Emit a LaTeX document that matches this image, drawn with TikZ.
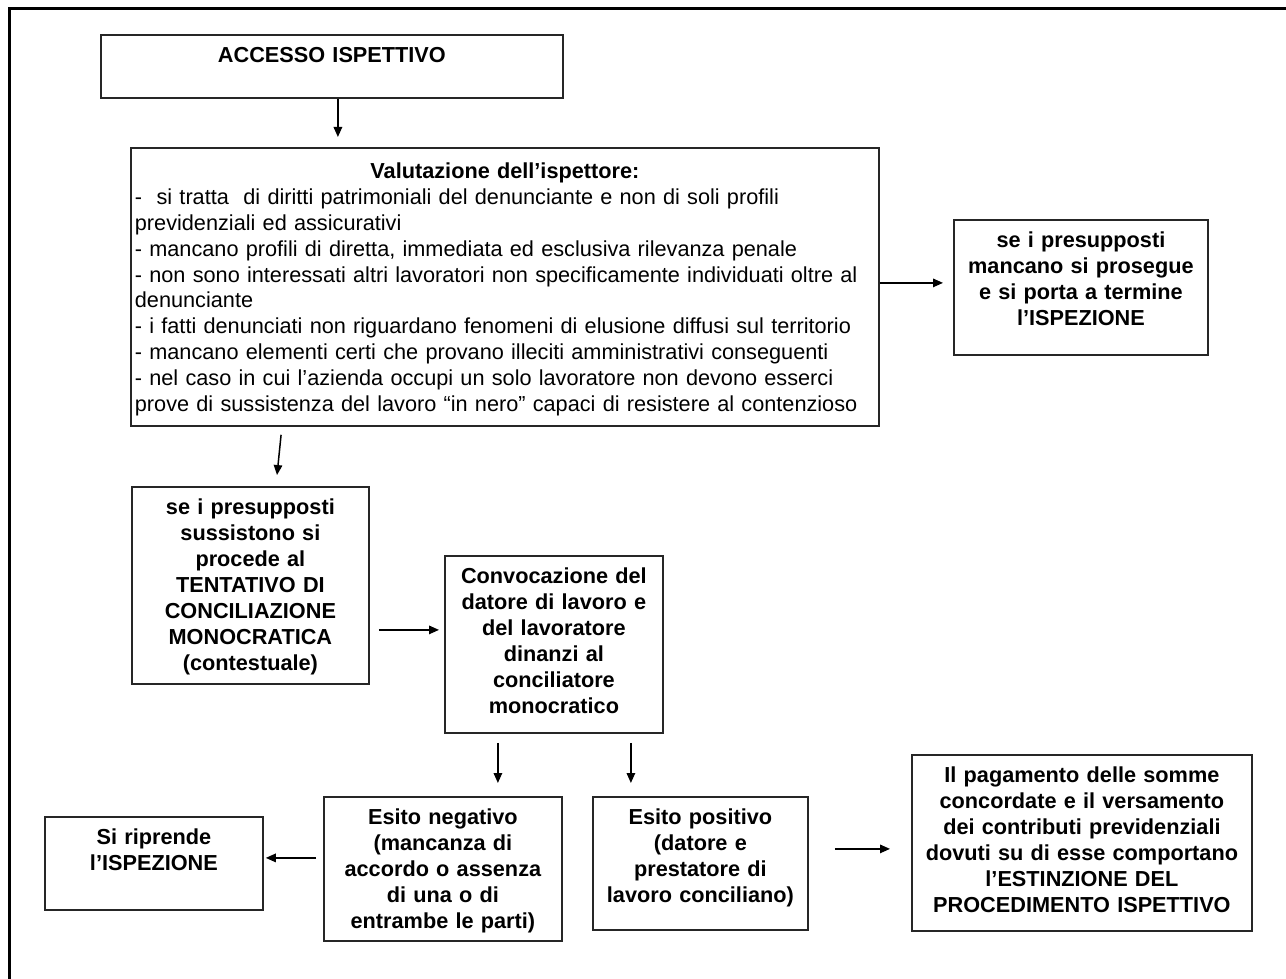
\documentclass[tikz,border=0pt]{standalone}
\usepackage{fontspec}
\setmainfont{Liberation Sans}
\usetikzlibrary{arrows.meta}

\begin{document}
\begin{tikzpicture}[x=1pt, y=-1pt,
        box/.style={draw=black!85, line width=1.8pt, anchor=north west, align=center,
            inner xsep=4pt, inner ysep=6pt, text height=22pt,
            font=\bfseries\fontsize{21.7}{26}\selectfont},
        arr/.style={-{Triangle[length=10pt,width=8.5pt]}, line width=1.5pt}]
        \useasboundingbox (0,0) rectangle (1286,979);
        \draw[line width=3pt] (9,979) -- (9,9) -- (1286,9);

        \node[box, text width=454pt, text depth=29pt] (acc) at (100,34) {ACCESSO ISPETTIVO};
        \node[box, align=left, text width=740pt, text height=25pt, text depth=241pt,
            font=\fontsize{21.7}{25.8}\selectfont] (val) at (130,147)
            {\makebox[\linewidth]{\bfseries Valutazione dell’ispettore:}\\
            -\ \ si tratta\ \ di diritti patrimoniali del denunciante e non di soli profili\\
            previdenziali ed assicurativi\\
            - mancano profili di diretta, immediata ed esclusiva rilevanza penale\\
            - non sono interessati altri lavoratori non specificamente individuati oltre al\\
            denunciante\\
            - i fatti denunciati non riguardano fenomeni di elusione diffusi sul territorio\\
            - mancano elementi certi che provano illeciti amministrativi conseguenti\\
            - nel caso in cui l’azienda occupi un solo lavoratore non devono esserci\\
            prove di sussistenza del lavoro “in nero” capaci di resistere al contenzioso};
        \node[box, text width=246pt, text depth=101pt] (rt) at (953,219)
            {se i presupposti\\ mancano si prosegue\\ e si porta a termine\\ l’ISPEZIONE};
        \node[box, text width=229pt, text depth=163pt] (sus) at (131,486)
            {se i presupposti\\ sussistono si\\ procede al\\ TENTATIVO DI\\ CONCILIAZIONE\\ MONOCRATICA\\ (contestuale)};
        \node[box, text width=210pt, text depth=143pt] (conv) at (444,555)
            {Convocazione del\\ datore di lavoro e\\ del lavoratore\\ dinanzi al\\ conciliatore\\ monocratico};
        \node[box, text width=210pt, text depth=59pt] (rip) at (44,816)
            {Si riprende\\ l’ISPEZIONE};
        \node[box, text width=230pt, text depth=110pt] (neg) at (323,796)
            {Esito negativo\\ (mancanza di\\ accordo o assenza\\ di una o di\\ entrambe le parti)};
        \node[box, text width=207pt, text depth=99pt] (pos) at (592,796)
            {Esito positivo\\ (datore e\\ prestatore di\\ lavoro conciliano)};
        \node[box, text width=332pt, text depth=142pt] (fin) at (911,754)
            {Il pagamento delle somme\\ concordate e il versamento\\ dei contributi previdenziali\\ dovuti su di esse comportano\\ l’ESTINZIONE DEL\\ PROCEDIMENTO ISPETTIVO};

        \draw[arr, shorten >=10pt] ([xshift=6pt]acc.south) -- ([xshift=6pt]acc.south |- val.north);
        \draw[arr, shorten >=10pt] ([yshift=4pt]val.east) -- ([yshift=4pt]val.east -| rt.west);
        \draw[arr, shorten <=8pt, shorten >=11pt] ([xshift=-223pt]val.south) -- ([xshift=25.5pt]sus.north);
        \draw[arr, shorten <=9pt, shorten >=5pt] ([yshift=-44.5pt]sus.east) -- ([yshift=-44.5pt]sus.east -| conv.west);
        \draw[arr, shorten <=9pt, shorten >=13pt] ([xshift=-56pt]conv.south) -- ([xshift=-56pt]conv.south |- neg.north);
        \draw[arr, shorten <=9pt, shorten >=13pt] ([xshift=77pt]conv.south) -- ([xshift=77pt]conv.south |- pos.north);
        \draw[arr, shorten <=7pt, shorten >=2pt] ([yshift=11pt]neg.west) -- ([yshift=11pt]neg.west -| rip.east);
        \draw[arr, shorten <=26pt, shorten >=21pt] ([yshift=14.5pt]pos.east) -- ([yshift=14.5pt]pos.east -| fin.west);
    \end{tikzpicture}
\end{document}
